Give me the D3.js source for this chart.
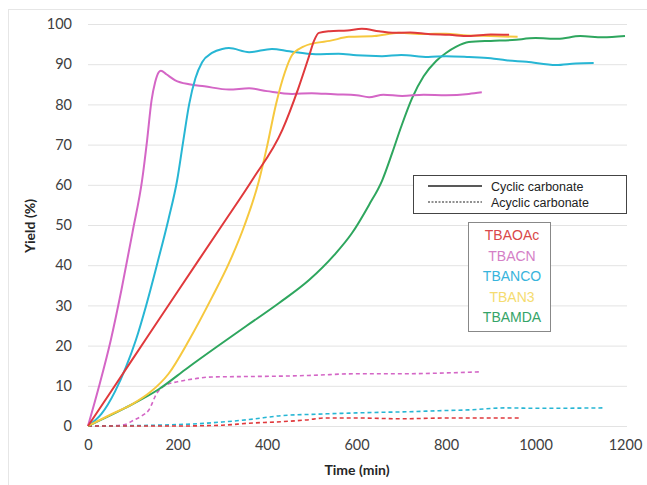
<!DOCTYPE html>
<html>
<head>
<meta charset="utf-8">
<script src="https://cdn.jsdelivr.net/npm/d3@7"></script>
<style>
body { margin: 0; background: #fff; }
svg { display: block; }
</style>
</head>
<body>
<div id="chart"></div>
<script>
// solid = cyclic carbonate, dashed = acyclic carbonate
const xTicks = [0, 200, 400, 600, 800, 1000, 1200];
const yTicks = [0, 10, 20, 30, 40, 50, 60, 70, 80, 90, 100];
const names = ["TBAOAc", "TBACN", "TBANCO", "TBAN3", "TBAMDA"];

const oacT = [0, 100, 200, 300, 367, 434, 470, 494, 505, 516, 540, 580, 612, 650, 680, 720, 760, 807, 851, 900, 941];
const oacV = [0, 16.7, 33.4, 50, 61.2, 73.6, 84, 92, 95.8, 97.8, 98.2, 98.4, 98.8, 98.2, 97.8, 97.9, 97.5, 97.3, 97, 97.4, 97.3];

const cnT = [0, 25, 51, 75, 100, 121, 132, 142, 150, 158, 163, 175, 195, 226, 260, 315, 360, 400, 456, 500, 550, 600, 628, 660, 702, 750, 800, 851, 880];
const cnV = [0, 10, 21.4, 34, 48.5, 61.2, 71, 81, 85.5, 88, 88.4, 87.5, 86, 85, 84.5, 83.7, 84, 83.3, 82.6, 82.8, 82.5, 82.3, 81.8, 82.4, 82.1, 82.4, 82.3, 82.6, 83];

const ncoT = [0, 30, 60, 85, 107, 130, 155, 180, 199, 213, 226, 240, 255, 277, 300, 315, 360, 411, 450, 509, 560, 600, 657, 700, 760, 800, 851, 900, 934, 980, 1046, 1090, 1130];
const ncoV = [0, 3, 8.5, 14.7, 21.4, 30, 40.5, 51.5, 61, 71, 80, 86.5, 90.5, 92.8, 93.8, 94, 93, 93.8, 93.2, 92.5, 92.6, 92.2, 92, 92.3, 91.8, 92, 91.8, 91.5, 91, 90.6, 89.8, 90.2, 90.3];

const n3T = [0, 50, 100, 140, 180, 226, 277, 315, 350, 382, 400, 420, 440, 456, 480, 509, 540, 583, 640, 695, 750, 800, 840, 900, 960];
const n3V = [0, 2.8, 5.5, 8.5, 13, 21.4, 32, 40.5, 50, 61, 69.5, 80, 88, 92.3, 94.3, 95.3, 95.8, 96.8, 97, 97.8, 97.5, 97.6, 97.2, 97, 96.8];

const mdaT = [0, 80, 159, 223, 288, 353, 427, 494, 550, 590, 628, 657, 680, 700, 724, 750, 778, 800, 822, 851, 900, 948, 1000, 1050, 1100, 1150, 1200];
const mdaV = [0, 4.3, 9.2, 14.5, 19.7, 24.8, 30.6, 36.3, 42.5, 48, 55, 61, 68, 74.5, 81.5, 87, 90.8, 92.8, 94.3, 95.5, 95.8, 96, 96.5, 96.3, 97, 96.7, 97];

const cnAcT = [0, 40, 80, 103, 120, 136, 154, 174, 200, 219, 277, 350, 427, 500, 600, 700, 800, 880];
const cnAcV = [0, 0, 0.3, 1.5, 2.5, 4, 8.2, 10.2, 11, 11.4, 12.2, 12.3, 12.4, 12.6, 13, 13, 13.2, 13.5];

const ncoAcT = [0, 150, 250, 300, 360, 434, 500, 583, 650, 700, 784, 850, 934, 1000, 1150];
const ncoAcV = [0, 0.2, 0.6, 1, 1.6, 2.6, 2.9, 3.2, 3.4, 3.5, 3.8, 4, 4.5, 4.4, 4.5];

const oacAcT = [0, 200, 300, 360, 420, 487, 532, 600, 700, 807, 900, 965];
const oacAcV = [0, 0, 0.2, 0.7, 1, 1.5, 2, 2, 1.8, 2, 2, 2];

const colors = {
    TBAOAc: "#e0393c",
    TBACN: "#d466c6",
    TBANCO: "#27b6d4",
    TBAN3: "#f6c83e",
    TBAMDA: "#2ea65e"
};
const textColors = {
    TBAOAc: "#d9484a",
    TBACN: "#d480c6",
    TBANCO: "#38b4dc",
    TBAN3: "#f5dc70",
    TBAMDA: "#35a468"
};

const series = [
    { name: "TBACN", t: cnAcT, v: cnAcV, dash: true },
    { name: "TBANCO", t: ncoAcT, v: ncoAcV, dash: true },
    { name: "TBAOAc", t: oacAcT, v: oacAcV, dash: true },
    { name: "TBAMDA", t: mdaT, v: mdaV, dash: false },
    { name: "TBACN", t: cnT, v: cnV, dash: false },
    { name: "TBANCO", t: ncoT, v: ncoV, dash: false },
    { name: "TBAN3", t: n3T, v: n3V, dash: false },
    { name: "TBAOAc", t: oacT, v: oacV, dash: false }
];

const W = 647, H = 485;
const svg = d3.select("#chart").append("svg")
    .attr("width", W)
    .attr("height", H);

// faint outer frame of the pasted chart
svg.append("rect")
    .attr("x", 8.5).attr("y", 9.5)
    .attr("width", 640).attr("height", 480)
    .attr("fill", "none")
    .attr("stroke", "#e6e6e6");

const xScale = d3.scaleLinear().domain([0, 1200]).range([88, 625]);
const yScale = d3.scaleLinear().domain([0, 100]).range([426, 24]);

// gridlines
svg.append("g")
    .selectAll("line")
    .data(yTicks)
    .enter()
    .append("line")
    .attr("x1", xScale(0))
    .attr("x2", xScale(1200) + 2)
    .attr("y1", d => yScale(d) + 0.5)
    .attr("y2", d => yScale(d) + 0.5)
    .attr("stroke", "#e3e3e3")
    .attr("stroke-width", 1);

const xAxis = d3.axisBottom(xScale).tickValues(xTicks).tickFormat(d3.format("d")).tickSize(0).tickPadding(14);
const yAxis = d3.axisLeft(yScale).tickValues(yTicks).tickFormat(d3.format("d")).tickSize(0).tickPadding(16);

const gx = svg.append("g")
    .attr("transform", `translate(0, ${yScale(0)})`)
    .call(xAxis);
const gy = svg.append("g")
    .attr("transform", `translate(${xScale(0)}, 0)`)
    .call(yAxis);

[gx, gy].forEach(g => {
    g.select(".domain").remove();
    g.selectAll("text")
        .attr("fill", "#404040")
        .style("font-family", "Lato, 'Open Sans', sans-serif")
        .style("font-size", "14.5px");
});

svg.append("text")
    .attr("transform", "translate(35, 226) rotate(-90)")
    .attr("text-anchor", "middle")
    .style("font-family", "Lato, 'Open Sans', sans-serif")
    .style("font-weight", "bold")
    .style("font-size", "14px")
    .attr("fill", "#262626")
    .text("Yield (%)");

svg.append("text")
    .attr("x", 357)
    .attr("y", 475)
    .attr("text-anchor", "middle")
    .style("font-family", "Lato, 'Open Sans', sans-serif")
    .style("font-weight", "bold")
    .style("font-size", "14px")
    .attr("fill", "#262626")
    .text("Time (min)");

const line = d3.line()
    .x(d => xScale(d[0]))
    .y(d => yScale(d[1]))
    .curve(d3.curveMonotoneX);

svg.append("g")
    .selectAll("path")
    .data(series)
    .enter()
    .append("path")
    .attr("d", s => line(s.t.map((t, i) => [t, s.v[i]])))
    .attr("fill", "none")
    .attr("stroke", s => colors[s.name])
    .attr("stroke-width", s => s.dash ? 1.6 : 2)
    .attr("stroke-dasharray", s => s.dash ? "4,3" : null)
    .attr("stroke-linejoin", "round");

// line style legend
const lg = svg.append("g");
lg.append("rect")
    .attr("x", 413.5).attr("y", 175.5)
    .attr("width", 213).attr("height", 38)
    .attr("fill", "#fff")
    .attr("stroke", "#444");
lg.append("line")
    .attr("x1", 428).attr("x2", 482)
    .attr("y1", 186).attr("y2", 186)
    .attr("stroke", "#222").attr("stroke-width", 1.6);
lg.append("line")
    .attr("x1", 428).attr("x2", 482)
    .attr("y1", 202).attr("y2", 202)
    .attr("stroke", "#222").attr("stroke-width", 1.2)
    .attr("stroke-dasharray", "2,1.5");
lg.append("text").attr("x", 491).attr("y", 191).text("Cyclic carbonate");
lg.append("text").attr("x", 491).attr("y", 207).text("Acyclic carbonate");
lg.selectAll("text")
    .style("font-family", "'Liberation Sans', Arial, sans-serif")
    .style("font-size", "12.5px")
    .attr("fill", "#222");

// catalyst colour legend
const cg = svg.append("g");
cg.append("rect")
    .attr("x", 468.5).attr("y", 222.5)
    .attr("width", 82).attr("height", 109)
    .attr("fill", "#fff")
    .attr("stroke", "#888");
cg.selectAll("text")
    .data(names)
    .enter()
    .append("text")
    .attr("x", 512)
    .attr("y", (d, i) => 240 + i * 20.5)
    .attr("text-anchor", "middle")
    .style("font-family", "'Liberation Sans', Arial, sans-serif")
    .style("font-size", "14px")
    .attr("fill", d => textColors[d])
    .text(d => d);
</script>
</body>
</html>
